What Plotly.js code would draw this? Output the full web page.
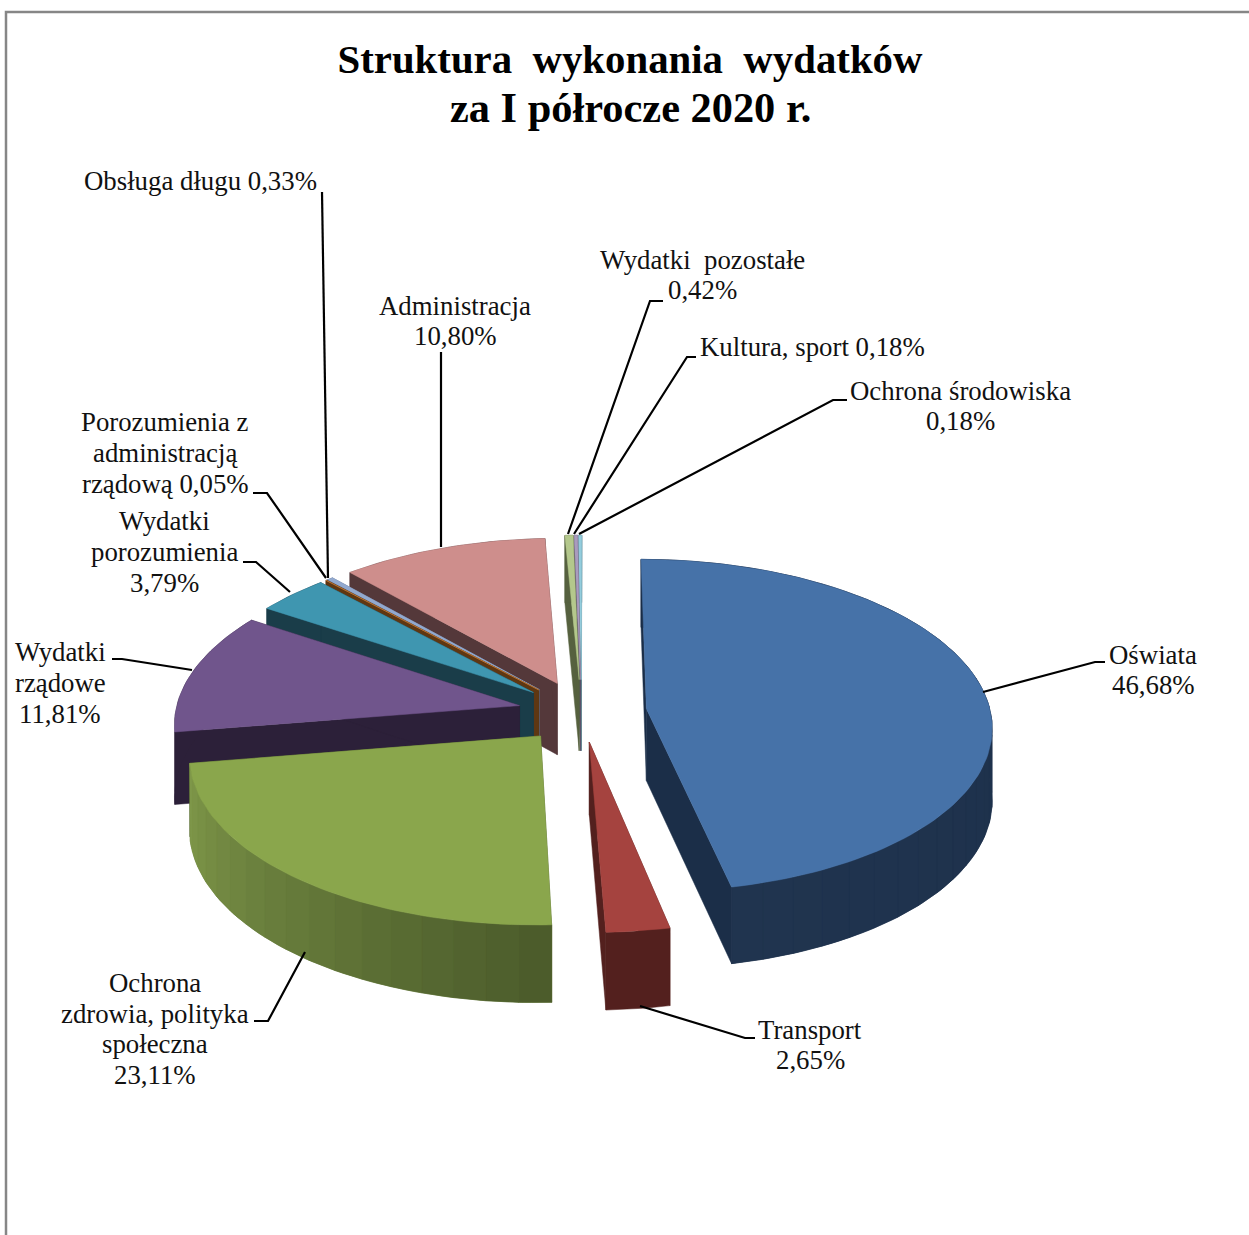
<!DOCTYPE html>
<html>
<head>
<meta charset="utf-8">
<script src="https://cdn.plot.ly/plotly-3.0.1.min.js"></script>
<style>html,body{margin:0;padding:0;background:#fff}#chart{width:1249px;height:1235px}</style>
</head>
<body>
<div id="chart"></div>
<script>
// ---- data, in the chart's clockwise order from 12 o'clock ----
const categories = ["Oświata","Transport","Ochrona zdrowia, polityka społeczna","Wydatki rządowe","Wydatki porozumienia","Porozumienia z administracją rządową","Obsługa długu","Administracja","Wydatki pozostałe","Kultura, sport","Ochrona środowiska"];
const values = [46.68,2.65,23.11,11.81,3.79,0.05,0.33,10.80,0.42,0.18,0.18];
const labelTemplates = ["Oświata<br>{v}","Transport<br>{v}","Ochrona<br>zdrowia, polityka<br>społeczna<br>{v}","Wydatki<br>rządowe<br>{v}","Wydatki<br>porozumienia<br>{v}","Porozumienia z<br>administracją<br>rządową {v}","Obsługa długu {v}","Administracja<br>{v}","Wydatki&nbsp;&nbsp;pozostałe<br>{v}","Kultura, sport {v}","Ochrona środowiska<br>{v}"];
const titleLine1 = "<b>Struktura&nbsp;&nbsp;wykonania&nbsp;&nbsp;wydatków</b>";
const titleLine2 = "<b>za I półrocze 2020 r.</b>";

// ---- styles ----
const topColors = ["#4672a8","#a5433f","#8aa64c","#70558c","#3f96b0","#d9863c","#92a9cf","#ce8e8c","#b4c88c","#a99bbd","#93cddd"];
const wallFrom  = ["#1b2e48","#53201e","#4a5a2a","#2c2039","#1a3d49","#5f3712","#5f6f8a","#54383a","#56613f","#5a5068","#4d7480"];
const wallTo    = ["#20344f","#53201e","#80994a","#2c2039","#1a3d49","#5f3712","#5f6f8a","#54383a","#56613f","#5a5068","#4d7480"];
const pull      = [0.19,0.18,0.185,0.185,0.185,0.185,0.185,0.19,0.2,0.2,0.2];
const drawOrder = [10,9,8,7,6,5,4,3,0,1,2];

// ---- projection of the tilted disc onto the axes ----
const view = {cx:581.5, cy:712, rx:344, ry:165, persp:0.1, depth:72, rotation:0.1};
const DEG = Math.PI/180;
function project(X, Y, drop){
  const s = 1/(1 - view.persp*Y);
  return [view.cx + view.rx*X*s, view.cy + view.ry*Y*s + drop*view.depth*(1+0.6*(s-1))];
}
function hexMix(a,b,t){
  const p=c=>[1,3,5].map(i=>parseInt(c.substr(i,2),16));
  const A=p(a),B=p(b);
  return "rgb("+A.map((v,i)=>Math.round(v+(B[i]-v)*t)).join(",")+")";
}
function poly(pts,color,extra){
  return Object.assign({type:"scatter",mode:"lines",x:pts.map(p=>p[0]),y:pts.map(p=>p[1]),
    fill:"toself",fillcolor:color,line:{color:color,width:0.5},hoverinfo:"skip",showlegend:false},extra||{});
}
function wallBand(rim,a,b,steps){
  const up=[],down=[];
  for(let k=0;k<=steps;k++){
    const r=rim(a+(b-a)*k/steps);
    up.push(project(r[0],r[1],0)); down.unshift(project(r[0],r[1],1));
  }
  return up.concat(down,[up[0]]);
}

const total = values.reduce((a,b)=>a+b,0);
let acc = 0;
const slices = values.map((v,i)=>{
  const a0 = acc/total*360+view.rotation; acc += v; const a1 = acc/total*360+view.rotation;
  return {i,a0,a1,mid:(a0+a1)/2};
});

const traces = [];
drawOrder.forEach(idx=>{
  const sl = slices[idx];
  const ox = pull[idx]*Math.sin(sl.mid*DEG), oy = -pull[idx]*Math.cos(sl.mid*DEG);
  const rim = a => [ox+Math.sin(a*DEG), oy-Math.cos(a*DEG)];
  // radial side faces
  [sl.a0,sl.a1].forEach(a=>{
    const r = rim(a);
    traces.push(poly([project(ox,oy,0),project(r[0],r[1],0),project(r[0],r[1],1),project(ox,oy,1),project(ox,oy,0)],wallFrom[idx]));
  });
  // outer wall: one smooth base, then shaded bands where the colour changes
  const sweep = sl.a1-sl.a0;
  traces.push(poly(wallBand(rim,sl.a0,sl.a1,Math.max(2,Math.ceil(sweep/1.5))),hexMix(wallFrom[idx],wallTo[idx],0.5)));
  if(wallFrom[idx]!==wallTo[idx]){
    const n = Math.ceil(sweep/5);
    for(let k=0;k<n;k++){
      const a=sl.a0+sweep*k/n, b=sl.a0+sweep*(k+1)/n;
      traces.push(poly(wallBand(rim,a,b,4),hexMix(wallFrom[idx],wallTo[idx],(k+0.5)/n)));
    }
  }
  // top face
  const pts=[project(ox,oy,0)];
  const m=Math.max(2,Math.ceil(sweep/1.5));
  for(let k=0;k<=m;k++){const r=rim(sl.a0+sweep*k/m);pts.push(project(r[0],r[1],0));}
  pts.push(project(ox,oy,0));
  traces.push(poly(pts,topColors[idx],{name:categories[idx],text:categories[idx]+": "+values[idx].toFixed(2).replace(".",",")+"%",hoverinfo:"text",hoveron:"fills"}));
});

// ---- leader lines and labels ----
const leaderX = [[983,1095,1105],[640,745,755],[305,268,254],[192,122,112],[290,256,243],[326,267,253],[328,322],[441,441],[568,650,663],[574,687,696],[579,833,847]];
const leaderY = [[692,662,662],[1006,1038,1038],[952,1021,1021],[670,659,659],[592,562,562],[578,493,493],[578,192],[547,352],[534,301,301],[534,357,357],[534,400,400]];
leaderX.forEach((xs,i)=>traces.push({type:"scatter",mode:"lines",x:xs,y:leaderY[i],line:{color:"#000",width:2.2},hoverinfo:"skip",showlegend:false}));

const labelX = [1153,810,155,60,164,165,200,455,702,812,960];
const labelY = [670,1045,1029,683,552,453,181,321,275,347,406];
const lineGap = 30.7;
const labelFont = {family:"Liberation Serif, serif",size:26.8,color:"#111"};
const annotations = [];
labelTemplates.forEach((t,i)=>{
  const lines = t.replace("{v}",values[i].toFixed(2).replace(".",",")+"%").split("<br>");
  lines.forEach((ln,j)=>annotations.push({
    text:ln,x:labelX[i],y:labelY[i]+(j-(lines.length-1)/2)*lineGap,xref:"x",yref:"y",showarrow:false,
    xanchor:"center",yanchor:"middle",align:"center",font:labelFont
  }));
});
const titleFont = {family:"Liberation Serif, serif",size:40.8,color:"#000"};
annotations.push({text:titleLine2,x:630,y:107,xref:"x",yref:"y",showarrow:false,xanchor:"center",yanchor:"middle",font:{family:titleFont.family,size:42.4,color:"#000"}});

const layout = {
  width:1249,height:1235,margin:{l:0,r:0,t:0,b:0},paper_bgcolor:"#fff",plot_bgcolor:"#fff",showlegend:false,
  title:{text:titleLine1,x:630/1249,xanchor:"center",y:1-59/1235,yanchor:"middle",font:titleFont},
  xaxis:{range:[0,1249],visible:false,fixedrange:true},
  yaxis:{range:[1235,0],visible:false,fixedrange:true},
  annotations:annotations,
  shapes:[{type:"path",path:"M 6 1235 L 6 12 L 1249 12",xref:"x",yref:"y",line:{color:"#868686",width:2.5}}]
};
Plotly.newPlot("chart",traces,layout,{displayModeBar:false,responsive:false});
</script>
</body>
</html>
